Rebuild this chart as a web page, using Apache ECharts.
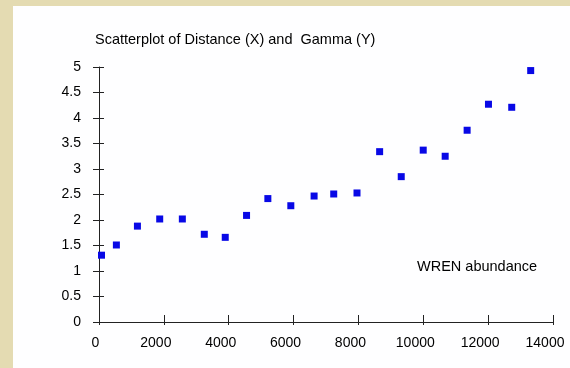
<!DOCTYPE html>
<html>
<head>
<meta charset="utf-8">
<script src="https://cdn.jsdelivr.net/npm/echarts@6/dist/echarts.min.js"></script>
<style>
  html, body { margin: 0; padding: 0; background: #e4dbb2; }
  #main { width: 570px; height: 368px; }
</style>
</head>
<body>
<div id="main"></div>
<script>
// distance (X) and gamma (Y)
const distance = [77, 536, 1185, 1872, 2570, 3247, 3893, 4550, 5207, 5915, 6633,
                  7238, 7956, 8654, 9320, 9998, 10675, 11352, 12010, 12727, 13312];
const gamma = [1.31, 1.51, 1.88, 2.02, 2.02, 1.72, 1.66, 2.09, 2.42, 2.28, 2.47,
               2.51, 2.53, 3.34, 2.85, 3.37, 3.25, 3.76, 4.27, 4.21, 4.93];

const data = distance.map((d, i) => [d, gamma[i]]);

const font = 'Liberation Sans, Arial, sans-serif';
const gridPos = { left: 99, right: 17, top: 67, bottom: 46, outerBoundsMode: 'none', containLabel: false };
const tickFont = { fontFamily: font, fontSize: 14, color: '#000' };

const chart = echarts.init(document.getElementById('main'), null, { renderer: 'canvas' });

chart.setOption({
    animation: false,
    backgroundColor: 'transparent',
    title: {
        text: 'Scatterplot of Distance (X) and  Gamma (Y)',
        left: 95,
        top: 32,
        padding: 0,
        textStyle: { fontFamily: font, fontSize: 14.5, fontWeight: 'normal', color: '#000' }
    },
    graphic: [
        {
            type: 'rect', z: -10, silent: true,
            shape: { x: 13, y: 6, width: 557, height: 362 },
            style: { fill: '#fefeff' }
        },
        {
            type: 'text', left: 417, top: 259,
            style: { text: 'WREN abundance', font: '14.5px ' + font, fill: '#000' }
        }
    ],
    // two grids on top of each other so the ticks can cross the axis lines
    grid: [
        Object.assign({}, gridPos),
        Object.assign({}, gridPos)
    ],
    xAxis: [
        {
            gridIndex: 0, type: 'value', min: 0, max: 14000, interval: 2000,
            axisLine: { show: true, lineStyle: { color: '#222', width: 1 } },
            axisTick: { show: true, inside: true, length: 7, lineStyle: { color: '#222' } },
            axisLabel: Object.assign({
                margin: 14,
                // labels sit a little left of their ticks in the original
                formatter: v => (v === 0 ? '{z|0}' : '{n|' + v + '}'),
                rich: {
                    z: Object.assign({ padding: [0, 7, 0, 0] }, tickFont),
                    n: Object.assign({ padding: [0, 16, 0, 0] }, tickFont)
                }
            }, tickFont),
            splitLine: { show: false }
        },
        {
            gridIndex: 1, type: 'value', min: 0, max: 14000, interval: 2000,
            axisLine: { show: false },
            axisTick: { show: true, inside: false, length: 3, lineStyle: { color: '#222' } },
            axisLabel: { show: false },
            splitLine: { show: false }
        }
    ],
    yAxis: [
        {
            gridIndex: 0, type: 'value', min: 0, max: 5, interval: 0.5,
            axisLine: { show: true, lineStyle: { color: '#222', width: 1 } },
            axisTick: { show: true, inside: true, length: 5, lineStyle: { color: '#222' } },
            axisLabel: Object.assign({ margin: 18 }, tickFont),
            splitLine: { show: false }
        },
        {
            gridIndex: 1, type: 'value', min: 0, max: 5, interval: 0.5,
            axisLine: { show: false },
            axisTick: { show: true, inside: false, length: 6, lineStyle: { color: '#222' } },
            axisLabel: { show: false },
            splitLine: { show: false }
        }
    ],
    series: [
        {
            type: 'scatter',
            xAxisIndex: 0,
            yAxisIndex: 0,
            symbol: 'rect',
            symbolSize: 7,
            itemStyle: { color: '#0808e6', opacity: 1 },
            data
        }
    ]
});
</script>
</body>
</html>
